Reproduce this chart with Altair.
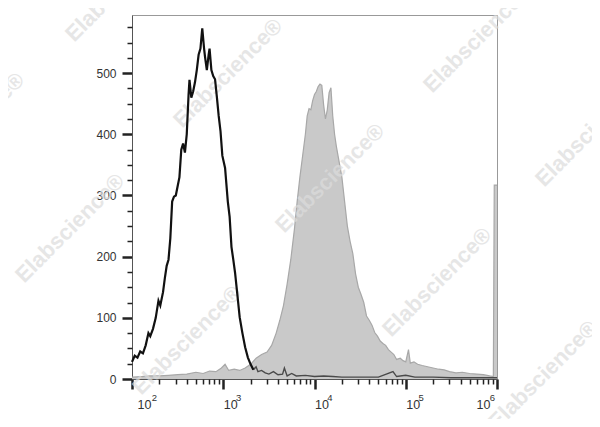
import math
import altair as alt
import pandas as pd

# ---- data (x in log10 units of fluorescence, y = count)
stained_x = [2.00, 2.10, 2.20, 2.30, 2.40, 2.50, 2.60, 2.70, 2.78, 2.85, 2.92, 2.98, 3.02, 3.06,
             3.12, 3.18, 3.24, 3.30, 3.36, 3.42, 3.48, 3.53, 3.58, 3.62, 3.66, 3.70, 3.74, 3.78,
             3.81, 3.84, 3.87, 3.90, 3.92, 3.94, 3.96, 3.98, 4.00, 4.02, 4.04, 4.06, 4.08, 4.10,
             4.12, 4.14, 4.16, 4.18, 4.20, 4.22, 4.24, 4.27, 4.30, 4.33, 4.36, 4.39, 4.42, 4.45,
             4.48, 4.51, 4.54, 4.57, 4.60, 4.63, 4.66, 4.69, 4.72, 4.75, 4.78, 4.81, 4.84, 4.87,
             4.90, 4.94, 4.97, 5.00, 5.03, 5.05, 5.09, 5.13, 5.18, 5.24, 5.30, 5.36, 5.42, 5.48,
             5.55, 5.62, 5.70, 5.78, 5.85, 5.92, 5.96, 5.97, 6.00]
stained_y = [3, 4, 5, 5, 6, 7, 8, 11, 9, 13, 12, 18, 24, 14,
             16, 14, 18, 24, 34, 40, 44, 55, 75, 96, 120, 155, 195, 245,
             290, 330, 365, 400, 430, 442, 440, 455, 465, 470, 478, 482, 480, 448,
             425, 440, 468, 476, 430, 400, 380, 355, 330, 290, 250, 225, 205, 172,
             150, 138, 125, 103, 96, 88, 76, 70, 62, 58, 55, 48, 44, 40,
             32, 34, 30, 28, 48, 26, 28, 24, 22, 20, 18, 16, 15, 12,
             10, 11, 9, 8, 7, 5, 4, 317, 317]

control_x = [2.00, 2.03, 2.06, 2.09, 2.12, 2.15, 2.18, 2.20, 2.23, 2.26, 2.29, 2.31, 2.34, 2.36,
             2.38, 2.40, 2.42, 2.44, 2.46, 2.48, 2.50, 2.52, 2.54, 2.56, 2.58, 2.60, 2.62, 2.63,
             2.65, 2.67, 2.69, 2.71, 2.73, 2.75, 2.77, 2.79, 2.80, 2.82, 2.84, 2.85, 2.87, 2.89,
             2.91, 2.93, 2.95, 2.97, 2.99, 3.02, 3.05, 3.07, 3.09, 3.11, 3.13, 3.16, 3.18, 3.21,
             3.24, 3.27, 3.30, 3.33]
control_y = [28, 38, 35, 45, 42, 55, 75, 70, 82, 100, 128, 120, 142, 165,
             185, 195, 230, 290, 298, 300, 315, 330, 375, 385, 370, 400, 465, 489,
             460, 470, 485, 505, 530, 540, 573, 540, 527, 505, 530, 540, 505, 495,
             490, 461, 430, 405, 365, 345, 290, 265, 216, 195, 173, 130, 101, 75,
             52, 35, 24, 15]

tail_x = [3.33, 3.36, 3.38, 3.42, 3.46, 3.50, 3.55, 3.60, 3.65, 3.67, 3.70, 3.75, 3.80, 3.90,
          4.00, 4.10, 4.20, 4.30, 4.50, 4.70, 4.86, 4.90, 5.00, 5.10, 5.30, 5.50, 5.70, 5.90, 6.00]
tail_y = [15, 20, 12, 14, 10, 8, 12, 7, 8, 18, 5, 9, 5, 6,
          4, 5, 4, 3, 3, 3, 12, 4, 6, 3, 3, 2, 2, 2, 2]

x_major = [2, 3, 4, 5, 6]
y_major = [0, 100, 200, 300, 400, 500]
y_minor = [v for v in range(25, 600, 25) if v % 100 != 0]
x_minor = [d + math.log10(k) for d in range(2, 6) for k in range(2, 10)]

watermark_text = "Elabscience®"
watermark_pos = [(-12, -28), (96, 58), (-162, 112), (346, 23), (198, 163),
                 (-62, 213), (458, 117), (305, 267), (55, 325), (411, 360)]

W, H = 365, 364
FONT = "Liberation Sans"

stained = pd.DataFrame({"x": stained_x, "y": stained_y})
control = pd.DataFrame({"x": control_x, "y": control_y})
tail = pd.DataFrame({"x": tail_x, "y": tail_y})

xs = alt.Scale(domain=[2, 6], nice=False, zero=False)
ys = alt.Scale(domain=[0, 595], nice=False)

# base "10" of the x labels
x_axis = alt.Axis(
    values=x_major, title=None, grid=False, orient="bottom",
    labelExpr="'10'",
    tickSize=10, tickWidth=2.5, tickColor="#222", domainColor="#555", domainWidth=1,
    labelFont=FONT, labelFontSize=12.5, labelColor="#333", labelPadding=9,
    labelAlign="center",
    labelOffset={"condition": [{"test": "datum.value == 2", "value": 12},
                               {"test": "datum.value == 6", "value": -14}],
                 "value": 7},
)
# exponents of the x labels
x_exp_axis = alt.Axis(
    values=x_major, title=None, grid=False, orient="bottom", domain=False,
    ticks=False, tickSize=0,
    labelExpr="format(datum.value, 'd')",
    labelFont=FONT, labelFontSize=9.5, labelColor="#333", labelPadding=13,
    labelAlign="center",
    labelOffset={"condition": [{"test": "datum.value == 2", "value": 22},
                               {"test": "datum.value == 6", "value": -5}],
                 "value": 15},
)
y_axis = alt.Axis(
    values=y_major, title=None, grid=False, orient="left",
    tickSize=10, tickWidth=2.5, tickColor="#222", domainColor="#555", domainWidth=1,
    labelFont=FONT, labelFontSize=12, labelColor="#333", labelPadding=6,
)
x_minor_axis = alt.Axis(values=x_minor, labels=False, domain=False, grid=False, title=None,
                        orient="bottom", tickSize=5, tickWidth=1.5, tickColor="#222")
y_minor_axis = alt.Axis(values=y_minor, labels=False, domain=False, grid=False, title=None,
                        orient="left", tickSize=5, tickWidth=1.5, tickColor="#222")

area = alt.Chart(stained).mark_area(
    color="#c9c9c9", opacity=1, line={"color": "#a8a8a8", "strokeWidth": 1.2}
).encode(
    x=alt.X("x:Q", scale=xs, axis=x_axis),
    y=alt.Y("y:Q", scale=ys, axis=y_axis),
)

marks = []
for (px, py) in watermark_pos:
    marks.append(
        alt.Chart(alt.Data(values=[{}])).mark_text(
            text=watermark_text, angle=315, font=FONT, fontSize=22, fontWeight="bold",
            color="#dcdcdc", opacity=0.7, align="center", baseline="middle"
        ).encode(x=alt.value(px), y=alt.value(py))
    )

tail_line = alt.Chart(tail).mark_line(color="#4a4a4a", strokeWidth=1.4).encode(
    x=alt.X("x:Q", scale=xs, axis=x_exp_axis),
    y=alt.Y("y:Q", scale=ys, axis=None),
)

main_line = alt.Chart(control).mark_line(color="#111111", strokeWidth=2.2).encode(
    x=alt.X("x:Q", scale=xs, axis=x_minor_axis),
    y=alt.Y("y:Q", scale=ys, axis=y_minor_axis),
)

chart = alt.layer(area, *marks, tail_line, main_line).resolve_axis(
    x="independent", y="independent"
).properties(
    width=W, height=H,
    padding={"left": 124, "top": 7, "right": 95, "bottom": 40},
    autosize=alt.AutoSizeParams(type="none"),
    background="white",
).configure_view(stroke="#999999", strokeWidth=1)

chart.save("out.html", embed_options={"renderer": "svg", "actions": False})
